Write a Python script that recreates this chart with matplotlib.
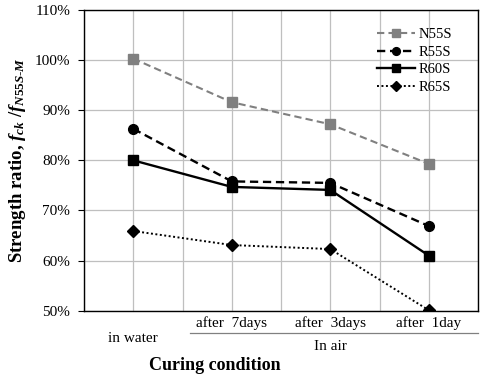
#!/usr/bin/env python3
"""Strength ratio vs curing condition for four concrete mixes."""

import matplotlib.pyplot as plt
import numpy as np
from matplotlib.transforms import blended_transform_factory

plt.rcParams["font.family"] = ["Liberation Serif", "DejaVu Serif"]
plt.rcParams["mathtext.fontset"] = "custom"
plt.rcParams["mathtext.rm"] = "Liberation Serif:bold"
plt.rcParams["mathtext.it"] = "Liberation Serif:italic:bold"
plt.rcParams["mathtext.bf"] = "Liberation Serif:bold"

CONDITIONS = ["in water", "after  7days", "after  3days", "after  1day"]
GROUP_LABEL = "In air"

N55S = [100.3, 91.6, 87.2, 79.3]
R55S = [86.3, 75.8, 75.5, 66.9]
R60S = [80.0, 74.7, 74.1, 61.0]
R65S = [65.9, 63.1, 62.3, 50.1]

SERIES = ["N55S", "R55S", "R60S", "R65S"]
STYLES = [
    dict(color="#808080", ls=(0, (3.5, 2)), lw=1.5, marker="s", ms=7.5),
    dict(color="black", ls=(0, (3.5, 2)), lw=1.7, marker="o", ms=7),
    dict(color="black", ls="-", lw=1.7, marker="s", ms=7.5),
    dict(color="black", ls=(0, (1, 1.3)), lw=1.4, marker="D", ms=6),
]

fig = plt.figure(figsize=(4.96, 3.78), dpi=100)
ax = fig.add_axes([84 / 496, 1 - 310.7 / 378, 394 / 496, 300.7 / 378])

x = np.arange(len(CONDITIONS))
for name, vals, st in zip(SERIES, [N55S, R55S, R60S, R65S], STYLES):
    ax.plot(x, vals, label=name, color=st["color"], linestyle=st["ls"],
            linewidth=st["lw"], marker=st["marker"], markersize=st["ms"],
            markerfacecolor=st["color"], markeredgecolor=st["color"])

ax.set_xlim(-0.5, len(CONDITIONS) - 0.5)
ax.set_ylim(50, 110)
ax.set_yticks(np.arange(50, 111, 10))
ax.set_yticklabels([f"{v}%" for v in range(50, 111, 10)], fontsize=11)
ax.set_xticks(np.arange(-0.5, len(CONDITIONS) - 0.4, 0.5))
ax.set_xticklabels([])
ax.tick_params(axis="x", length=0)
ax.tick_params(axis="y", length=4, width=0.8, pad=6)
ax.grid(True, color="#bfbfbf", linewidth=0.9)
ax.set_axisbelow(True)
for sp in ax.spines.values():
    sp.set_linewidth(1.0)

# category labels below the axis
tr = blended_transform_factory(ax.transData, ax.transAxes)
ax.text(0, -0.094, CONDITIONS[0], transform=tr, ha="center", va="center",
        fontsize=11)
for i in range(1, len(CONDITIONS)):
    ax.text(i, -0.041, CONDITIONS[i], transform=tr, ha="center",
            va="center", fontsize=11)
ax.plot([0.58, 3.5], [-0.074, -0.074], transform=tr, color="#808080",
        lw=0.9, clip_on=False)
ax.text(2, -0.12, GROUP_LABEL, transform=tr, ha="center", va="center",
        fontsize=11)

fig.text(215 / 496, 1 - 365 / 378, "Curing condition", ha="center",
         va="center", fontsize=13, fontweight="bold")

ax.set_ylabel(r"Strength ratio, $f_{ck}$ /$f_{N55S\text{-}M}$",
              fontsize=13.5, fontweight="bold")
ax.yaxis.set_label_coords(-0.142, 0.5)

ax.legend(loc="upper left", bbox_to_anchor=(0.73, 0.96), frameon=False,
          fontsize=10.5, handlelength=2.6, labelspacing=0.3,
          handletextpad=0.2, borderaxespad=0, markerscale=0.8)

fig.savefig("out.png", dpi=100)
